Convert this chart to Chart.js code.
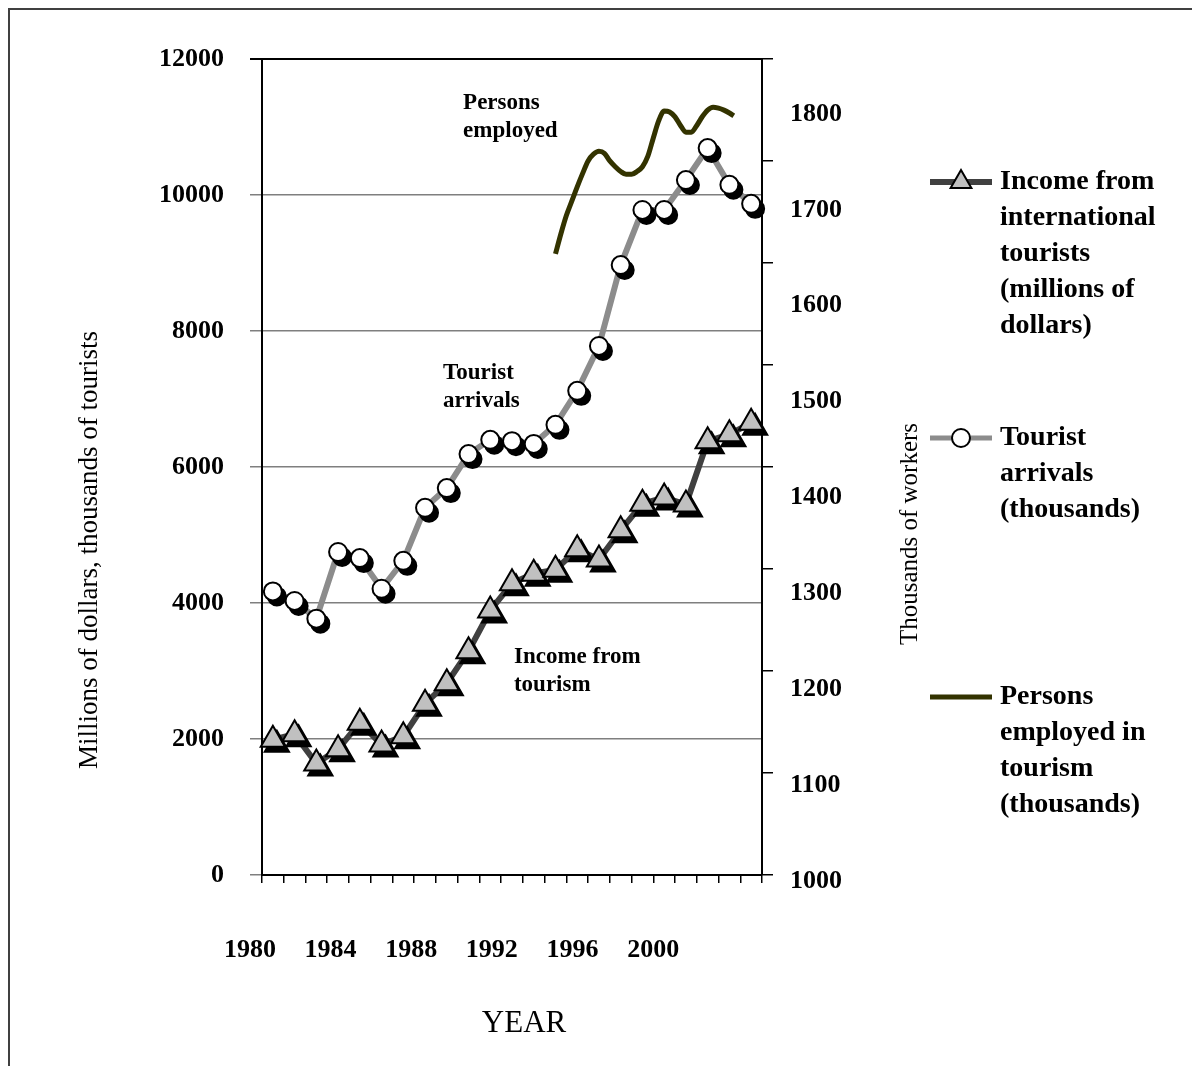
<!DOCTYPE html>
<html>
<head>
<meta charset="utf-8">
<script src="https://cdn.jsdelivr.net/npm/chart.js@4.4.1/dist/chart.umd.min.js"></script>
<style>
  html, body { margin: 0; padding: 0; background: #fff; }
</style>
</head>
<body>
<canvas id="tourismChart" width="1192" height="1066"></canvas>
<script>
const years = [1981, 1982, 1983, 1984, 1985, 1986, 1987, 1988, 1989, 1990, 1991, 1992,
  1993, 1994, 1995, 1996, 1997, 1998, 1999, 2000, 2001, 2002, 2003];
const incomeValues = [1990, 2070, 1640, 1850, 2240, 1920, 2040, 2520, 2820, 3290, 3890, 4290,
  4430, 4490, 4790, 4640, 5070, 5460, 5550, 5450, 6380, 6480, 6650];
const arrivalValues = [4170, 4030, 3770, 4750, 4660, 4210, 4620, 5400, 5690, 6190, 6400, 6380,
  6340, 6620, 7120, 7780, 8970, 9780, 9780, 10220, 10690, 10150, 9870];
const employedYears = [1994, 1994.25, 1994.5, 1994.75, 1995, 1995.25, 1995.5, 1995.75,
  1996, 1996.25, 1996.5, 1996.75, 1997, 1997.25, 1997.5, 1997.75, 1998, 1998.25, 1998.5, 1998.75,
  1999, 1999.25, 1999.5, 1999.75, 2000, 2000.25, 2000.5, 2000.75, 2001, 2001.25, 2001.5, 2001.75,
  2002, 2002.2];
const employedValues = [1654, 1675, 1694, 1709, 1724, 1738, 1751, 1758,
  1761, 1759, 1751, 1745, 1740, 1737, 1737, 1740, 1745, 1756, 1775, 1793,
  1803, 1802, 1797, 1788, 1781, 1781, 1788, 1797, 1804, 1807, 1806, 1804,
  1801, 1798];
const leftTicks = [0, 2000, 4000, 6000, 8000, 10000, 12000];
const rightTicks = [1000, 1100, 1200, 1300, 1400, 1500, 1600, 1700, 1800];
const yearTicks = [1980, 1984, 1988, 1992, 1996, 2000];
const legendLabels = [
  ['Income from', 'international', 'tourists', '(millions of', 'dollars)'],
  ['Tourist', 'arrivals', '(thousands)'],
  ['Persons', 'employed in', 'tourism', '(thousands)']
];

const serif = "'Liberation Serif', 'Times New Roman', serif";
Chart.defaults.font.family = serif;
Chart.defaults.color = '#000';

const toPoints = (xs, ys) => xs.map((x, i) => ({ x: x, y: ys[i] }));
const income = toPoints(years, incomeValues);
const arrivals = toPoints(years, arrivalValues);
const employed = toPoints(employedYears, employedValues);

// year boundaries for the little tick marks under the x axis
const yearEdges = [years[0] - 0.5].concat(years.map(y => y + 0.5));

// draws marker shadows by shifting the shadow datasets
const shadowPlugin = {
  id: 'markerShadow',
  beforeDatasetDraw(chart, args) {
    const ds = chart.data.datasets[args.index];
    if (ds.shadowOffset) {
      chart.ctx.save();
      chart.ctx.translate(ds.shadowOffset[0], ds.shadowOffset[1]);
    }
  },
  afterDatasetDraw(chart, args) {
    if (chart.data.datasets[args.index].shadowOffset) chart.ctx.restore();
  }
};

const framePlugin = {
  id: 'frame',
  beforeDraw(chart) {
    const ctx = chart.ctx;
    ctx.save();
    ctx.strokeStyle = '#404040';
    ctx.lineWidth = 2;
    ctx.beginPath();
    ctx.moveTo(9, chart.height);
    ctx.lineTo(9, 9);
    ctx.lineTo(chart.width, 9);
    ctx.stroke();
    ctx.restore();
  }
};

const textPlugin = {
  id: 'chartTexts',
  afterDraw(chart, args, opts) {
    const ctx = chart.ctx;
    const xs = chart.scales.x, ys = chart.scales.y;
    const area = chart.chartArea;
    ctx.save();
    ctx.fillStyle = '#000';
    ctx.textBaseline = 'middle';

    // labels inside the plot
    ctx.font = 'bold 23px ' + serif;
    ctx.textAlign = 'left';
    opts.notes.forEach(n => {
      const px = xs.getPixelForValue(n.year);
      const py = ys.getPixelForValue(n.value);
      n.lines.forEach((t, i) => ctx.fillText(t, px, py + i * 28));
    });

    // axis titles
    ctx.textAlign = 'center';
    ctx.font = '27px ' + serif;
    ctx.save();
    ctx.translate(90, 550);
    ctx.rotate(-Math.PI / 2);
    ctx.fillText('Millions of dollars, thousands of tourists', 0, 0);
    ctx.restore();

    ctx.font = '25px ' + serif;
    ctx.save();
    ctx.translate(910, 534);
    ctx.rotate(-Math.PI / 2);
    ctx.fillText('Thousands of workers', 0, 0);
    ctx.restore();

    ctx.font = '31px ' + serif;
    ctx.fillText('YEAR', (area.left + area.right) / 2 + 12, 1024);

    // legend
    opts.legend.forEach((item, k) => {
      const ds = chart.data.datasets[item.line];
      ctx.strokeStyle = ds.borderColor;
      ctx.lineWidth = item.width;
      ctx.beginPath();
      ctx.moveTo(930, item.y);
      ctx.lineTo(992, item.y);
      ctx.stroke();
      if (item.marker !== undefined) {
        const m = chart.data.datasets[item.marker];
        ctx.fillStyle = m.pointBackgroundColor;
        ctx.strokeStyle = m.pointBorderColor;
        ctx.lineWidth = 2;
        Chart.helpers.drawPoint(ctx, { pointStyle: m.pointStyle, radius: item.radius, borderWidth: 2, rotation: 0 }, 961, item.y);
      }
      ctx.fillStyle = '#000';
      ctx.textAlign = 'left';
      ctx.font = 'bold 28px ' + serif;
      legendLabels[k].forEach((t, i) => ctx.fillText(t, 1000, item.y + i * 36));
    });
    ctx.restore();
  }
};

new Chart(document.getElementById('tourismChart'), {
  type: 'line',
  data: {
    datasets: [
      {
        label: 'Persons employed in tourism (thousands)',
        data: employed, yAxisID: 'yR',
        borderColor: '#333300', borderWidth: 5, pointRadius: 0,
        cubicInterpolationMode: 'monotone', clip: false, order: 10
      },
      {
        label: 'Tourist arrivals (thousands)',
        data: arrivals, yAxisID: 'y',
        borderColor: '#8c8c8c', borderWidth: 6, pointRadius: 0, clip: false, order: 9
      },
      {
        label: 'Income from international tourists (millions of dollars)',
        data: income, yAxisID: 'y',
        borderColor: '#404040', borderWidth: 6, pointRadius: 0, clip: false, order: 8
      },
      {
        label: 'arrivals shadow', data: arrivals, yAxisID: 'y', showLine: false,
        pointStyle: 'circle', pointRadius: 9, pointBackgroundColor: '#000',
        pointBorderColor: '#000', pointBorderWidth: 2, shadowOffset: [4, 5], clip: false, order: 7
      },
      {
        label: 'arrivals markers', data: arrivals, yAxisID: 'y', showLine: false,
        pointStyle: 'circle', pointRadius: 9, pointBackgroundColor: '#fff',
        pointBorderColor: '#000', pointBorderWidth: 2, clip: false, order: 6
      },
      {
        label: 'income shadow', data: income, yAxisID: 'y', showLine: false,
        pointStyle: 'triangle', pointRadius: 14, pointBackgroundColor: '#000',
        pointBorderColor: '#000', pointBorderWidth: 2, shadowOffset: [4, 5], clip: false, order: 5
      },
      {
        label: 'income markers', data: income, yAxisID: 'y', showLine: false,
        pointStyle: 'triangle', pointRadius: 14, pointBackgroundColor: '#c0c0c0',
        pointBorderColor: '#000', pointBorderWidth: 2, clip: false, order: 4
      }
    ]
  },
  options: {
    responsive: false,
    animation: false,
    events: [],
    layout: { padding: { top: 59, left: 0, right: 0, bottom: 0 } },
    plugins: {
      legend: { display: false },
      tooltip: { enabled: false },
      chartTexts: {
        notes: [
          { lines: ['Persons', 'employed'], year: 1989.75, value: 11350 },
          { lines: ['Tourist', 'arrivals'], year: 1988.83, value: 7380 },
          { lines: ['Income from', 'tourism'], year: 1992.09, value: 3210 }
        ],
        legend: [
          { line: 2, marker: 6, radius: 12, width: 6, y: 182 },
          { line: 1, marker: 4, radius: 9, width: 5, y: 438 },
          { line: 0, width: 5, y: 697 }
        ]
      }
    },
    scales: {
      x: {
        type: 'linear', position: 'bottom', weight: 0,
        min: years[0] - 0.5, max: years[years.length - 1] + 0.5,
        afterBuildTicks: s => { s.ticks = yearEdges.map(v => ({ value: v })); },
        afterFit: s => { s.height = 10; },
        ticks: { display: false },
        grid: { drawOnChartArea: false, tickLength: 8, color: '#000', lineWidth: 1.5 },
        border: { color: '#000', width: 2 }
      },
      xLab: {
        type: 'linear', position: 'bottom', weight: 1,
        min: 1980.6, max: 2005.4,
        afterBuildTicks: s => { s.ticks = yearTicks.map(v => ({ value: v })); },
        afterFit: s => { s.height = 181; },
        ticks: {
          autoSkip: false, maxRotation: 0, padding: 50,
          font: { size: 26, weight: 'bold' },
          callback: v => String(v)
        },
        grid: { display: false, drawTicks: false },
        border: { display: false }
      },
      y: {
        type: 'linear', position: 'left',
        min: 0, max: 12000,
        afterBuildTicks: s => { s.ticks = leftTicks.map(v => ({ value: v })); },
        afterFit: s => { s.width = 262; },
        ticks: {
          padding: 26,
          font: { size: 26, weight: 'bold' },
          callback: v => String(v)
        },
        grid: {
          tickLength: 12,
          color: c => (c.tick && c.tick.value === 12000 ? '#000' : '#7f7f7f'),
          lineWidth: c => (c.tick && c.tick.value === 12000 ? 2 : 1.5)
        },
        border: { color: '#000', width: 2 }
      },
      yT: {
        type: 'linear', position: 'right', weight: 0,
        min: 0, max: 8,
        afterBuildTicks: s => { s.ticks = rightTicks.map((v, i) => ({ value: i })); },
        afterFit: s => { s.width = 11; },
        ticks: { display: false },
        grid: { drawOnChartArea: false, tickLength: 11, color: '#000', lineWidth: 1.5 },
        border: { color: '#000', width: 2 }
      },
      yR: {
        type: 'linear', position: 'right', weight: 1,
        min: 1006.3, max: 1857.3,
        afterBuildTicks: s => { s.ticks = rightTicks.map(v => ({ value: v })); },
        afterFit: s => { s.width = 419; },
        ticks: {
          padding: 17,
          font: { size: 26, weight: 'bold' },
          callback: v => String(v)
        },
        grid: { display: false, drawTicks: false },
        border: { display: false }
      }
    }
  },
  plugins: [framePlugin, shadowPlugin, textPlugin]
});
</script>
</body>
</html>
